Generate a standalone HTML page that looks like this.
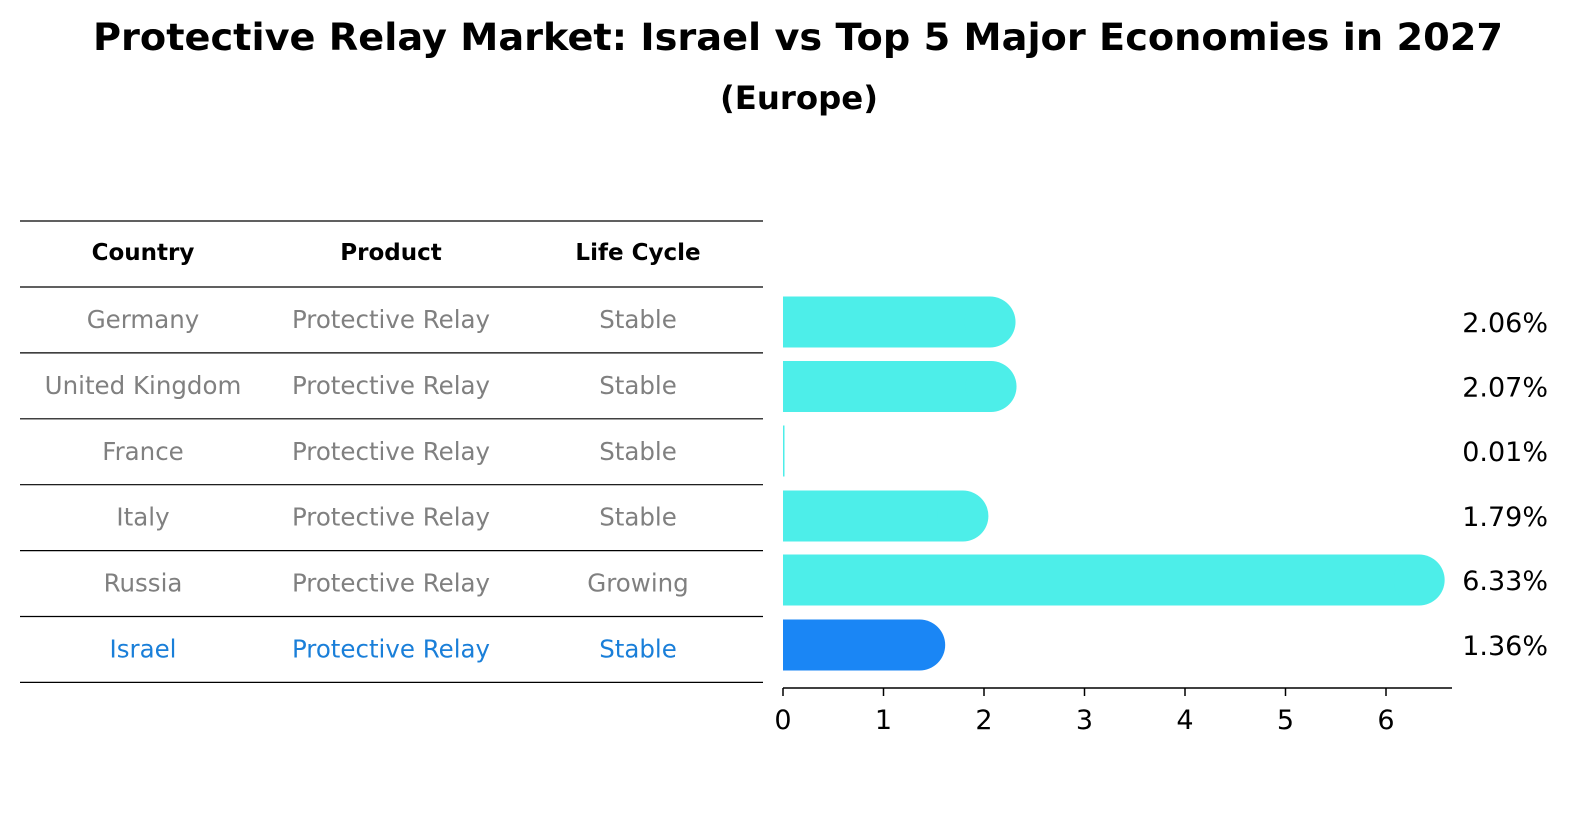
<!DOCTYPE html>
<html><head><meta charset="utf-8"><style>
body{margin:0;background:#fff;width:1586px;height:823px;overflow:hidden;font-family:"Liberation Sans","DejaVu Sans",sans-serif}
</style></head><body>
<svg id="chart" width="1586" height="823" xmlns="http://www.w3.org/2000/svg" font-family="DejaVu Sans, Liberation Sans, sans-serif">
<text x="798" y="50" text-anchor="middle" font-size="37" font-weight="bold" textLength="1410" lengthAdjust="spacingAndGlyphs">Protective Relay Market: Israel vs Top 5 Major Economies in 2027</text>
<text x="799" y="109" text-anchor="middle" font-size="32" font-weight="bold" textLength="158" lengthAdjust="spacingAndGlyphs">(Europe)</text>
<g id="table"></g>
<g id="bars"></g>
</svg>
<script>
const countries=["Germany","United Kingdom","France","Italy","Russia","Israel"];
const products=["Protective Relay","Protective Relay","Protective Relay","Protective Relay","Protective Relay","Protective Relay"];
const lifeCycles=["Stable","Stable","Stable","Stable","Growing","Stable"];
const values=[2.06,2.07,0.01,1.79,6.33,1.36];
const ticks=[0,1,2,3,4,5,6];
const NS="http://www.w3.org/2000/svg";
const svg=document.getElementById('chart');
const tbl=document.getElementById('table');
const bars=document.getElementById('bars');
function mk(tag,attrs,parent,text){const e=document.createElementNS(NS,tag);for(const k in attrs)e.setAttribute(k,attrs[k]);if(text!==undefined)e.textContent=text;parent.appendChild(e);return e;}
const rowH=65.9;
const colX=[143,391,638];
function line(y){const l=mk('line',{x1:20,x2:763,y1:y,y2:y,stroke:'#000','stroke-width':1.2},tbl);

}
line(221);line(287);
const hdr=["Country","Product","Life Cycle"];
hdr.forEach((h,i)=>{const t=mk('text',{x:colX[i],y:260,'text-anchor':'middle','font-size':23,'font-weight':'bold'},tbl,h);

});
countries.forEach((c,i)=>{
  const cy=287+rowH*(i+0.5);
  const col=c==="Israel"?'#1a7fd9':'#808080';
  [c,products[i],lifeCycles[i]].forEach((v,j)=>{
    const t=mk('text',{x:colX[j],y:cy+8,'text-anchor':'middle','font-size':24.5,fill:col},tbl,v);
    
    
  });
  line(287+rowH*(i+1));
});
const x0=783,pxPer=100.5;
function xs(v){return x0+v*pxPer;}
const rowY=[322,386.5,451,516,580,645];
const bh=51;
values.forEach((v,i)=>{
  const cy=rowY[i];
  const fill=countries[i]==="Israel"?'#1a86f5':'#4deee9';
  const xe=xs(v);
  const g=mk('g',{},bars);
  
  
  if(v>0.05){
    mk('rect',{x:x0,y:cy-bh/2,width:xe-x0,height:bh,fill:fill},g);
    mk('circle',{cx:xe,cy:cy,r:bh/2,fill:fill},g);
  } else {
    mk('rect',{x:x0,y:cy-bh/2,width:Math.max(1.5,xe-x0),height:bh,fill:fill},g);
  }
  const t=mk('text',{x:1548,y:cy+10,'text-anchor':'end','font-size':27},bars,v.toFixed(2)+'%');
  
  
});
const ax=mk('line',{x1:x0,x2:1452,y1:688,y2:688,stroke:'#000','stroke-width':1.5},bars);


ticks.forEach(t=>{
  const x=xs(t);
  mk('line',{x1:x,x2:x,y1:688,y2:696,stroke:'#000','stroke-width':1.5},bars);
  const l=mk('text',{x:x,y:729,'text-anchor':'middle','font-size':27},bars,String(t));
  
  
});
</script>
</body></html>
